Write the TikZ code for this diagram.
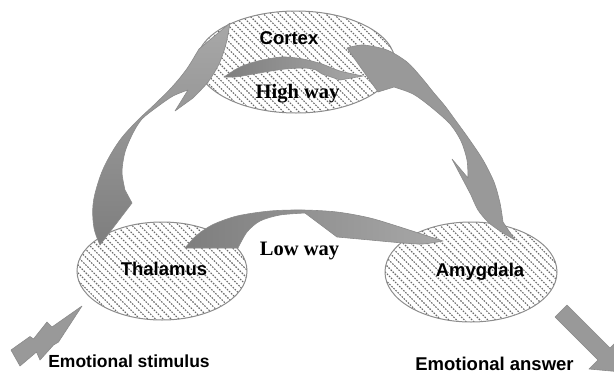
\documentclass[tikz,border=0pt]{standalone}
\usepackage{fontspec}
\setmainfont{Liberation Serif}
\newfontfamily\arialf{Liberation Sans}
\usetikzlibrary{shapes.geometric}
\definecolor{ellline}{HTML}{8C8C8C}
\definecolor{hatchc}{HTML}{6A6A6A}
\definecolor{arrmid}{HTML}{999999}
\definecolor{arrdark}{HTML}{7E7E7E}
\definecolor{arrlight}{HTML}{A8A8A8}
\definecolor{arredge}{HTML}{8A8A8A}
\tikzset{
  hatchell/.style={ellipse, draw=ellline, line width=1pt, fill=white, inner sep=0pt,
    path picture={
      \foreach \k in {-22,...,22}{
        \draw[hatchc, line width=1.1pt, dash pattern=on 1.6pt off 1.3pt]
          ([xshift=\k*7.8pt-150pt, yshift=150pt]path picture bounding box.center) -- ++(300pt,-300pt);
      }}},
  bigarrow/.style={draw=arredge, line width=0.6pt, line join=round},
  sanslab/.style={font=\arialf\bfseries\fontsize{18.5}{20}\selectfont, anchor=base, inner sep=0pt},
  seriflab/.style={font=\bfseries\fontsize{20.5}{22}\selectfont, anchor=base, inner sep=0pt},
  bottomlab/.style={font=\arialf\bfseries\fontsize{17.5}{19}\selectfont, anchor=base, inner sep=0pt}
}
\begin{document}
\begin{tikzpicture}[x=1pt,y=-1pt]
\useasboundingbox (0,0) rectangle (614,376);
\clip (0,0) rectangle (614,376);

% ellipses
\node[hatchell, minimum width=198pt, minimum height=102pt] (cortex) at (296,62) {};
\node[hatchell, minimum width=170pt, minimum height=98pt] (thalamus) at (162,271) {};
\node[hatchell, minimum width=172pt, minimum height=100pt] (amygdala) at (471,272) {};

% left big arrow (thalamus -> cortex)
\path[bigarrow, top color=arrlight, bottom color=arrdark]
  (100,245)
  -- plot[smooth, tension=0.6] coordinates {(100,245) (94,228) (93,205) (98,183) (106,163) (120,140) (137,121) (155,104) (172,87) (186,70) (196,54)}
  -- (199,49) -- (230,23)
  -- plot[smooth] coordinates {(230,23) (226,44) (219,64) (208,82) (193,98)}
  -- (175,111) -- (188,90)
  -- plot[smooth] coordinates {(188,90) (173,96) (157,107) (142,119) (133,133) (125,152) (122,172) (125,190)}
  -- (132,203) -- cycle;

% right big arrow (cortex -> amygdala)
\path[bigarrow, fill=arrmid]
  (347,48)
  -- plot[smooth] coordinates {(347,48) (363,45) (387,50) (407,62) (421,77) (434,93) (445,106) (456,121) (469,139) (483,160) (494,182) (500,203) (503,222)}
  -- (515,240)
  -- plot[smooth] coordinates {(515,240) (500,231) (488,222) (478,210) (471,195)}
  -- (452,159) -- (468,178)
  -- plot[smooth] coordinates {(468,178) (467,160) (461,141) (450,124) (431,107) (413,94) (394,87)}
  -- (378,92) -- cycle;

% high way arrow
\path[bigarrow, left color=arrdark, right color=arrlight]
  (224,77)
  -- plot[smooth] coordinates {(224,77) (240,67) (258,61) (282,57) (303,59) (322,64) (340,71) (363,76)}
  -- (340,80) -- (322,74) -- (316,70)
  -- plot[smooth] coordinates {(316,70) (305,68) (285,69) (265,72) (248,75) (235,77) (224,77)}
  -- cycle;

% low way arrow
\path[bigarrow, left color=arrdark, right color=arrlight]
  (185,248)
  -- plot[smooth] coordinates {(185,248) (196,236) (212,225) (237,216) (270,211) (303,210) (337,212) (370,218) (403,228) (443,241)}
  -- plot[smooth] coordinates {(443,241) (423,244) (403,243) (370,240)}
  -- (337,237) -- (305,213)
  -- plot[smooth] coordinates {(305,213) (280,215) (260,221) (247,232) (238,248)}
  -- cycle;

% lightning bolt (stimulus)
\path[bigarrow, fill=arrmid]
  (82,306) -- (52,327) -- (47,322) -- (33.5,339) -- (30,336.5) -- (11,350)
  -- (20,366) -- (36.5,352) -- (40,360) -- (53.5,345) -- (58.5,342) -- cycle;

% answer arrow
\path[bigarrow, fill=arrmid]
  (567,305) -- (610,348) -- (619,339) -- (622,372) -- (589,369) -- (598,360) -- (555,317) -- cycle;

% labels
\node[sanslab] (lcortex) at (289,44) {Cortex};
\node[seriflab] (lhigh) at (297.5,98) {High way};
\node[seriflab] (llow) at (299.5,255) {Low way};
\node[sanslab] (lthal) at (164,275) {Thalamus};
\node[sanslab] (lamyg) at (480,276) {Amygdala};
\node[bottomlab] (lstim) at (129,367) {Emotional stimulus};
\node[bottomlab, font=\arialf\bfseries\fontsize{18.5}{20}\selectfont] (lans) at (494.5,370) {Emotional answer};
\end{tikzpicture}
\end{document}
